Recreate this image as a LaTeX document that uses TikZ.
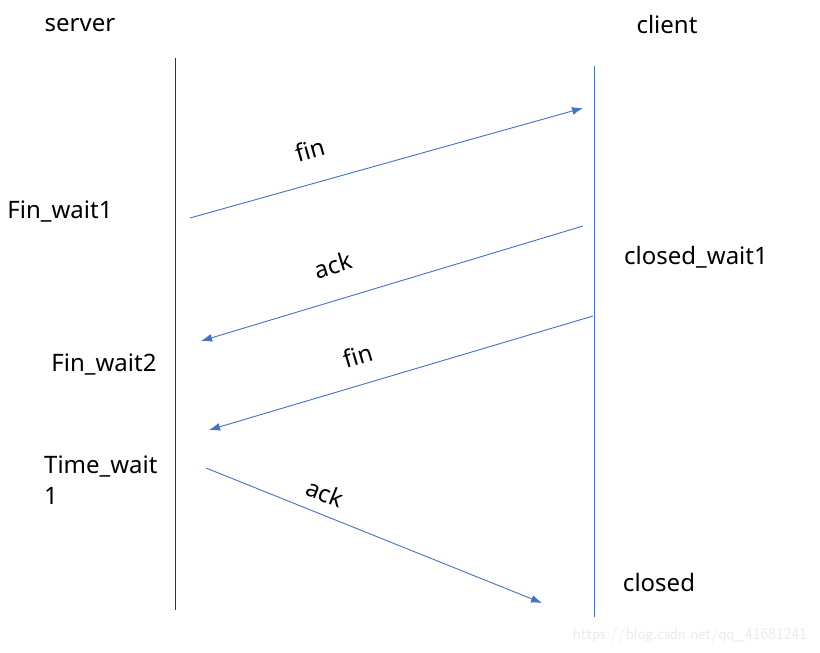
\documentclass[tikz,border=0pt]{standalone}
\usepackage{fontspec}
\setmainfont{Noto Sans}
\usetikzlibrary{arrows.meta}
\definecolor{lineblue}{HTML}{4472C4}
\tikzset{
  msg/.style={draw=lineblue, line width=0.9pt, -{Latex[length=11pt,width=8pt]}},
  lbl/.style={font=\fontsize{24}{29}\selectfont, inner sep=0pt},
  state/.style={font=\fontsize{24}{31}\selectfont, inner sep=0pt},
}
\begin{document}
\begin{tikzpicture}[x=1pt,y=-1pt]
\useasboundingbox[fill=white] (0,0) rectangle (820,653);
% lifelines
\coordinate (st) at (175,58);
\coordinate (sb) at (175,610);
\coordinate (ct) at (594,66);
\coordinate (cb) at (594,617);
\draw[line width=0.8pt, black!80] (st) -- (sb);
\draw[line width=0.9pt, lineblue] (ct) -- (cb);
% headers
\node[state] (server) at (80,25) {server};
\node[state] (client) at (667,25) {client};
% states
\node[state] (fw1) at (60,212) {Fin\_wait1};
\node[state] (cw1) at (696,257) {closed\_wait1};
\node[state] (fw2) at (104,365) {Fin\_wait2};
\node[state, anchor=west, align=left] (tw) at (44,480) {Time\_wait\\1};
\node[state] (cl) at (659,582) {closed};
% messages
\coordinate (m1a) at (190,218); \coordinate (m1b) at (583,108);
\coordinate (m2a) at (583,226); \coordinate (m2b) at (201,341);
\coordinate (m3a) at (593,316); \coordinate (m3b) at (209,430);
\coordinate (m4a) at (206,468); \coordinate (m4b) at (542,603);
\draw[msg] (m1a) -- (m1b);
\draw[msg] (m2a) -- (m2b);
\draw[msg] (m3a) -- (m3b);
\draw[msg] (m4a) -- (m4b);
\node[lbl, rotate=15.6] (l1) at (310,150) {fin};
\node[lbl, rotate=16.8] (l2) at (333,265) {ack};
\node[lbl, rotate=16.5] (l3) at (358,356) {fin};
\node[lbl, rotate=-21.9] (l4) at (325,493) {ack};
% watermark
\node[font=\fontsize{16.5}{19}\selectfont\sffamily, text=black!8, inner sep=0pt] (wm) at (690,635) {https://blog.csdn.net/qq\_41681241};
\end{tikzpicture}
\end{document}
